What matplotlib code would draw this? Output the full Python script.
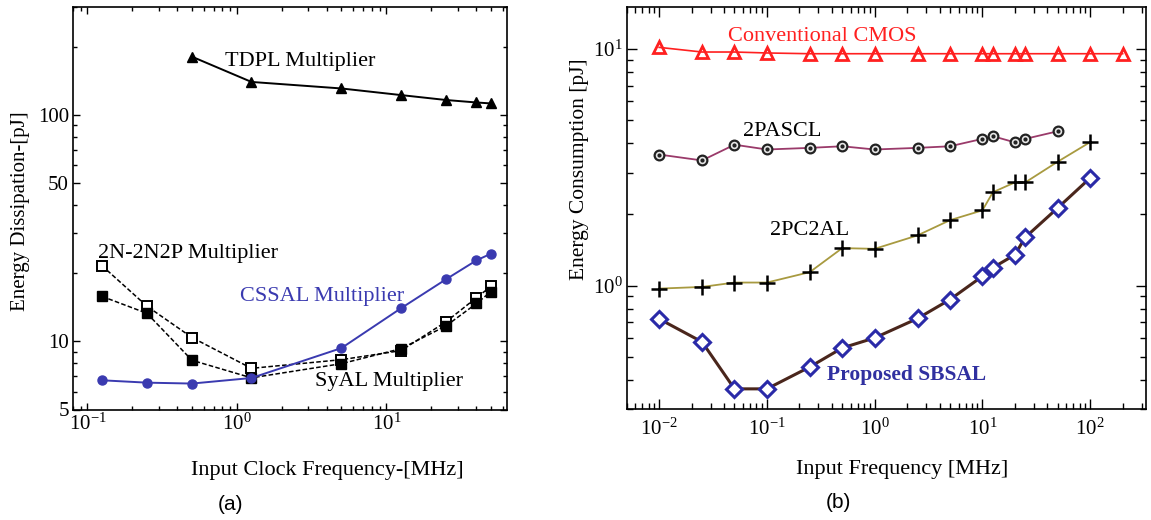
import numpy as np
import matplotlib
matplotlib.use("Agg")
import matplotlib.pyplot as plt
from matplotlib.ticker import FixedLocator, FixedFormatter, LogLocator, NullFormatter

plt.rcParams['font.family'] = ['Liberation Serif', 'DejaVu Serif']
plt.rcParams['mathtext.fontset'] = 'custom'
plt.rcParams['mathtext.rm'] = 'Liberation Serif'

######## panel (a) data
freq_a = [0.125, 0.25, 0.5, 1.25, 5, 12.5, 25, 40, 50]
tdpl_freq = [0.5, 1.25, 5, 12.5, 25, 40, 50]
tdpl = [181, 140, 131, 122.5, 116.5, 113.6, 112.5]
n2n2p = [21.6, 14.3, 10.4, 7.6, 8.3, 9.1, 12.2, 15.6, 17.5]   # open squares
syal = [15.8, 13.3, 8.25, 6.9, 7.97, 9.28, 11.7, 14.7, 16.6]    # filled squares
cssal = [6.73, 6.57, 6.51, 6.89, 9.34, 14.0, 18.8, 22.8, 24.4]

######## panel (b) data
freq_b = [0.01, 0.025, 0.05, 0.1, 0.25, 0.5, 1, 2.5, 5, 10, 12.5, 20, 25, 50, 100, 200]
cmos = [10.16, 9.71, 9.71, 9.62, 9.55, 9.55, 9.55, 9.55, 9.55, 9.55, 9.55, 9.55, 9.55, 9.55, 9.55, 9.55]
pascl = [3.58, 3.38, 3.94, 3.76, 3.82, 3.88, 3.76, 3.82, 3.88, 4.17, 4.28, 4.03, 4.17, 4.49]
pc2al = [0.971, 0.987, 1.03, 1.03, 1.14, 1.44, 1.43, 1.63, 1.89, 2.08, 2.48, 2.73, 2.73, 3.34, 4.04]
sbsal = [0.723, 0.578, 0.366, 0.366, 0.453, 0.545, 0.601, 0.726, 0.873, 1.095, 1.19, 1.35, 1.60, 2.13, 2.85]

fig = plt.figure(figsize=(11.51, 5.20), dpi=100)
ax1 = fig.add_axes([0.0634, 0.2125, 0.3771, 0.774])
ax2 = fig.add_axes([0.5445, 0.2129, 0.4512, 0.773])

blue = '#3a3ab0'

# ---- (a)
ax1.plot(tdpl_freq, tdpl, '-^', color='black', lw=1.4, ms=7.5)
ax1.plot(freq_a, n2n2p, '--s', color='black', lw=1.1, ms=6.5, mfc='white', mew=1.4, dashes=(3, 1.5))
ax1.plot(freq_a, syal, '--s', color='black', lw=1.1, ms=6.5, dashes=(3, 1.5))
ax1.plot(freq_a, cssal, '-o', color=blue, lw=1.4, ms=6.5)

ax1.set_xscale('log')
ax1.set_yscale('log')
ax1.set_xlim(0.08, 64)
ax1.set_ylim(5, 300)
ax1.xaxis.set_major_locator(FixedLocator([0.1, 1, 10]))
ax1.xaxis.set_major_formatter(FixedFormatter([r'$\mathregular{10^{-1}}$', r'$\mathregular{10^{0}}$', r'$\mathregular{10^{1}}$']))
ax1.yaxis.set_major_locator(FixedLocator([5, 10, 50, 100]))
ax1.yaxis.set_major_formatter(FixedFormatter(['5', '10', '50', '100']))
for axis in (ax1.xaxis, ax1.yaxis):
    axis.set_minor_locator(LogLocator(base=10, subs=np.arange(2, 10), numticks=20))
    axis.set_minor_formatter(NullFormatter())
ax1.tick_params(which='both', direction='in', top=True, right=True, labelsize=15, width=1)
ax1.tick_params(which='major', length=5)
ax1.tick_params(which='minor', length=3)
ax1.tick_params(axis='x', pad=3)
ax1.tick_params(axis='y', pad=3)

ax1.text(0.350, 0.864, 'TDPL Multiplier', transform=ax1.transAxes, fontsize=16, va='center')
ax1.text(0.058, 0.388, '2N-2N2P Multiplier', transform=ax1.transAxes, fontsize=16, va='center')
ax1.text(0.385, 0.280, 'CSSAL Multiplier', transform=ax1.transAxes, fontsize=16, va='center', color=blue)
ax1.text(0.558, 0.069, 'SyAL Multiplier', transform=ax1.transAxes, fontsize=16, va='center')
ax1.set_xlabel('Input Clock Frequency-[MHz]', fontsize=16)
ax1.xaxis.set_label_coords(0.586, -0.128)
ax1.set_ylabel('Energy Dissipation-[pJ]', fontsize=15)
ax1.yaxis.set_label_coords(-0.100, 0.493)

# ---- (b)
ax2.plot(freq_b, cmos, '-^', color='#ff2020', lw=1.2, ms=8, mfc='none', mew=2)
ax2.plot(freq_b[:len(pascl)], pascl, '-', color='#9a3a6a', lw=1.3)
ax2.plot(freq_b[:len(pascl)], pascl, 'o', color='#222222', ms=7, mfc='#e8e8e8', mew=1.6)
ax2.plot(freq_b[:len(pascl)], pascl, '.', color='#222222', ms=4)
ax2.plot(freq_b[:len(pc2al)], pc2al, '-', color='#a89a40', lw=1.3)
ax2.plot(freq_b[:len(pc2al)], pc2al, '+', color='black', ms=11, mew=1.8)
ax2.plot(freq_b[:len(sbsal)], sbsal, '-', color='#4a261c', lw=2.2)
ax2.plot(freq_b[:len(sbsal)], sbsal, 'D', color='#2a2aa8', ms=8.5, mfc='white', mew=2.2)

ax2.set_xscale('log')
ax2.set_yscale('log')
ax2.set_xlim(0.005, 330)
ax2.set_ylim(0.3, 15)
ax2.xaxis.set_major_locator(FixedLocator([0.01, 0.1, 1, 10, 100]))
ax2.xaxis.set_major_formatter(FixedFormatter([r'$\mathregular{10^{-2}}$', r'$\mathregular{10^{-1}}$',
                                              r'$\mathregular{10^{0}}$', r'$\mathregular{10^{1}}$',
                                              r'$\mathregular{10^{2}}$']))
ax2.yaxis.set_major_locator(FixedLocator([1, 10]))
ax2.yaxis.set_major_formatter(FixedFormatter([r'$\mathregular{10^{0}}$', r'$\mathregular{10^{1}}$']))
for axis in (ax2.xaxis, ax2.yaxis):
    axis.set_minor_locator(LogLocator(base=10, subs=np.arange(2, 10), numticks=20))
    axis.set_minor_formatter(NullFormatter())
ax2.tick_params(which='both', direction='in', top=True, right=True, labelsize=15, width=1)
ax2.tick_params(which='major', length=7)
ax2.tick_params(which='minor', length=4.5)
ax2.tick_params(axis='x', pad=7)
ax2.tick_params(axis='y', pad=3)

ax2.text(0.195, 0.927, 'Conventional CMOS', transform=ax2.transAxes, fontsize=16, va='center', color='#ff2020')
ax2.text(0.224, 0.691, '2PASCL', transform=ax2.transAxes, fontsize=16, va='center')
ax2.text(0.276, 0.446, '2PC2AL', transform=ax2.transAxes, fontsize=16, va='center')
ax2.text(0.386, 0.085, 'Proposed SBSAL', transform=ax2.transAxes, fontsize=15.5, va='center',
         color='#3030a0', fontweight='bold')
ax2.set_xlabel('Input Frequency [MHz]', fontsize=16)
ax2.xaxis.set_label_coords(0.531, -0.127)
ax2.set_ylabel('Energy Consumption [pJ]', fontsize=15.5)
ax2.yaxis.set_label_coords(-0.073, 0.598)

for ax in (ax1, ax2):
    for s in ax.spines.values():
        s.set_linewidth(1.2)

fig.text(231 / 1151, 1 - 505 / 520, '(a)', fontsize=15, ha='center', va='center', family='Liberation Sans')
fig.text(838 / 1151, 1 - 503 / 520, '(b)', fontsize=15, ha='center', va='center', family='Liberation Sans')

fig.savefig('out.png', dpi=100)
